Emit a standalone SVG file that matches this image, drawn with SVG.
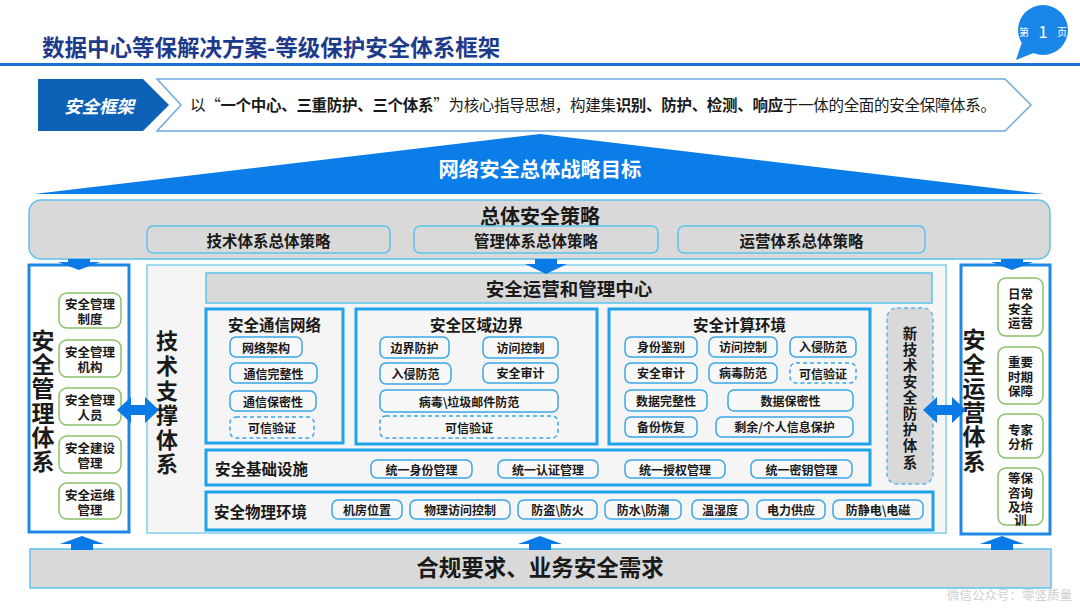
<svg xmlns="http://www.w3.org/2000/svg" width="1080" height="608" viewBox="0 0 1080 608">
<style>
text{font-family:"Noto Sans CJK SC","Noto Sans",sans-serif;fill:#1a1a1a}
.b{font-weight:700}
.c{text-anchor:middle;dominant-baseline:central}
.item rect{fill:#f8f8f8;stroke:#3aa6e6;stroke-width:1.5}
.item text{font-size:12px;font-weight:700;text-anchor:middle;dominant-baseline:central}
.dash rect{stroke-dasharray:4 3}
.sec{fill:#f5f5f5;stroke:#1fa3ea;stroke-width:3}
.gray{fill:#d9d9d9;stroke:#5cc4ec;stroke-width:1.5}
.green rect{fill:#fff;stroke:#8cc06a;stroke-width:1.5}
.green text{font-size:12.5px;font-weight:700;text-anchor:middle;dominant-baseline:central}
.arrow{fill:#0a7ae6}
</style>

<g id="header">
<text x="42" y="56" class="b" font-size="22.5" fill="#1e3a8a" style="fill:#1e3a8a">数据中心等保解决方案-等级保护安全体系框架</text>
<rect x="0" y="63" width="1080" height="3" fill="#1a6fd0"/>
</g>

<g id="page-badge">
<polygon points="1022,42 1016,60 1036,52" fill="#1a86e8"/>
<circle cx="1043" cy="30" r="25" fill="#1a86e8"/>
<text x="1024" y="31" class="c" font-size="10" style="fill:#fff">第</text>
<text x="1043" y="30" class="c" font-size="17" style="fill:#fff">1</text>
<text x="1062" y="31" class="c" font-size="10" style="fill:#fff">页</text>
</g>

<g id="banner">
<polygon points="157,79 1005,79 1031,105 1005,131 157,131 181,105" fill="#fff" stroke="#6fa8dc" stroke-width="1.5"/>
<polygon points="38,79 143,79 169,105 143,131 38,131" fill="#0d62b8"/>
<text x="99" y="105" class="b c" font-size="17.5" font-style="italic" style="fill:#fff">安全框架</text>
<text x="190" y="111" font-size="15.5" textLength="806" lengthAdjust="spacing">以“<tspan class="b">一个中心、三重防护、三个体系</tspan>”为核心指导思想，构建集<tspan class="b">识别、防护、检测、响应</tspan>于一体的全面的安全保障体系。</text>
</g>

<g id="goal">
<polygon points="34,194 540,134 1044,194" fill="#0a7de8"/>
<text x="540" y="168" class="b c" font-size="20.3" style="fill:#fff">网络安全总体战略目标</text>
</g>

<g id="strategy">
<rect x="29" y="200" width="1021" height="59" rx="12" class="gray"/>
<text x="540" y="215" class="b c" font-size="20">总体安全策略</text>
<rect x="147" y="226" width="243" height="27" rx="6" class="gray"/>
<text x="268.5" y="240" class="b c" font-size="15.5">技术体系总体策略</text>
<rect x="414" y="226" width="244" height="27" rx="6" class="gray"/>
<text x="536" y="240" class="b c" font-size="15.5">管理体系总体策略</text>
<rect x="678" y="226" width="247" height="27" rx="6" class="gray"/>
<text x="801.5" y="240" class="b c" font-size="15.5">运营体系总体策略</text>
</g>

<g id="mgmt-system">
<rect x="29" y="265" width="100" height="267" fill="#fff" stroke="#1e88e5" stroke-width="3"/>
<text class="b c" font-size="23"><tspan x="43" y="339">安</tspan><tspan x="43" y="363">全</tspan><tspan x="43" y="387">管</tspan><tspan x="43" y="412">理</tspan><tspan x="43" y="436">体</tspan><tspan x="43" y="460">系</tspan></text>
<g class="green">
<rect x="59" y="293" width="62" height="35" rx="8"/>
<text x="90" y="303">安全管理</text><text x="90" y="318">制度</text>
<rect x="59" y="340" width="62" height="37" rx="8"/>
<text x="90" y="351">安全管理</text><text x="90" y="366">机构</text>
<rect x="59" y="388" width="62" height="37" rx="8"/>
<text x="90" y="399">安全管理</text><text x="90" y="414">人员</text>
<rect x="59" y="436" width="62" height="37" rx="8"/>
<text x="90" y="447">安全建设</text><text x="90" y="462">管理</text>
<rect x="59" y="483" width="62" height="36" rx="8"/>
<text x="90" y="494">安全运维</text><text x="90" y="509">管理</text>
</g>
</g>

<g id="ops-system">
<rect x="961" y="265" width="89" height="269" fill="#fff" stroke="#1e88e5" stroke-width="3"/>
<text class="b c" font-size="23"><tspan x="974" y="338">安</tspan><tspan x="974" y="363">全</tspan><tspan x="974" y="387">运</tspan><tspan x="974" y="411">营</tspan><tspan x="974" y="435">体</tspan><tspan x="974" y="460">系</tspan></text>
<g class="green">
<rect x="998" y="278" width="45" height="58" rx="8"/>
<text x="1020.5" y="293">日常</text><text x="1020.5" y="308">安全</text><text x="1020.5" y="322">运营</text>
<rect x="998" y="347" width="45" height="57" rx="8"/>
<text x="1020.5" y="361">重要</text><text x="1020.5" y="376">时期</text><text x="1020.5" y="390">保障</text>
<rect x="998" y="414" width="45" height="44" rx="8"/>
<text x="1020.5" y="429">专家</text><text x="1020.5" y="443">分析</text>
<rect x="998" y="468" width="45" height="57" rx="8"/>
<text x="1020.5" y="477">等保</text><text x="1020.5" y="492">咨询</text><text x="1020.5" y="506">及培</text><text x="1020.5" y="519">训</text>
</g>
</g>

<g id="tech-system">
<rect x="147" y="265" width="799" height="268" fill="#f5f5f5" stroke="#7fd0f0" stroke-width="1.5"/>
<text class="b c" font-size="22"><tspan x="167" y="339">技</tspan><tspan x="167" y="364">术</tspan><tspan x="167" y="389">支</tspan><tspan x="167" y="413">撑</tspan><tspan x="167" y="438">体</tspan><tspan x="167" y="462">系</tspan></text>
</g>

<g id="soc">
<rect x="206" y="273" width="726" height="30" class="gray"/>
<text x="569" y="288" class="b c" font-size="18.5">安全运营和管理中心</text>
</g>

<g id="comm-network">
<rect x="206" y="309" width="137" height="134" class="sec"/>
<text x="274.5" y="324" class="b c" font-size="15.5">安全通信网络</text>
<g class="item">
<rect x="230" y="337" width="72" height="20" rx="6"/><text x="266" y="347">网络架构</text>
<rect x="230" y="363" width="87" height="20" rx="6"/><text x="273.5" y="373">通信完整性</text>
<rect x="230" y="391" width="86" height="20" rx="6"/><text x="273" y="401">通信保密性</text>
</g>
<g class="item dash">
<rect x="230" y="417" width="84" height="21" rx="6"/><text x="272" y="427.5">可信验证</text>
</g>
</g>

<g id="area-boundary">
<rect x="356" y="309" width="241" height="135" class="sec"/>
<text x="476.5" y="324" class="b c" font-size="15.5">安全区域边界</text>
<g class="item">
<rect x="380" y="337" width="69" height="21" rx="6"/><text x="414.5" y="347.5">边界防护</text>
<rect x="483" y="337" width="75" height="21" rx="6"/><text x="520.5" y="347.5">访问控制</text>
<rect x="380" y="363" width="71" height="21" rx="6"/><text x="415.5" y="373.5">入侵防范</text>
<rect x="483" y="363" width="75" height="20" rx="6"/><text x="520.5" y="372">安全审计</text>
<rect x="380" y="390" width="178" height="22" rx="6"/><text x="469" y="401">病毒\垃圾邮件防范</text>
</g>
<g class="item dash">
<rect x="380" y="416" width="178" height="22" rx="6"/><text x="469" y="427">可信验证</text>
</g>
</g>

<g id="compute-env">
<rect x="609" y="309" width="261" height="135" class="sec"/>
<text x="739.5" y="324" class="b c" font-size="15.5">安全计算环境</text>
<g class="item">
<rect x="625" y="337" width="72" height="20" rx="6"/><text x="661" y="346">身份鉴别</text>
<rect x="709" y="337" width="68" height="20" rx="6"/><text x="743" y="346">访问控制</text>
<rect x="790" y="337" width="66" height="20" rx="6"/><text x="823" y="346">入侵防范</text>
<rect x="625" y="363" width="72" height="20" rx="6"/><text x="661" y="372">安全审计</text>
<rect x="709" y="363" width="68" height="20" rx="6"/><text x="743" y="372">病毒防范</text>
<rect x="625" y="390" width="82" height="21" rx="6"/><text x="666" y="400">数据完整性</text>
<rect x="728" y="390" width="125" height="21" rx="6"/><text x="790.5" y="400">数据保密性</text>
<rect x="625" y="417" width="72" height="20" rx="6"/><text x="661" y="426">备份恢复</text>
<rect x="716" y="417" width="137" height="20" rx="6"/><text x="784.5" y="426">剩余/个人信息保护</text>
</g>
<g class="item dash">
<rect x="790" y="363" width="66" height="20" rx="6"/><text x="823" y="373">可信验证</text>
</g>
</g>

<g id="new-tech">
<rect x="887" y="308" width="46" height="176" rx="10" fill="#d9d9d9" stroke="#5cb8e8" stroke-width="1.5" stroke-dasharray="4 3"/>
<text class="b c" font-size="14.5"><tspan x="910" y="332">新</tspan><tspan x="910" y="348">技</tspan><tspan x="910" y="364">术</tspan><tspan x="910" y="380">安</tspan><tspan x="910" y="396">全</tspan><tspan x="910" y="412">防</tspan><tspan x="910" y="428">护</tspan><tspan x="910" y="444">体</tspan><tspan x="910" y="461">系</tspan></text>
</g>

<g id="infrastructure">
<rect x="206" y="450" width="664" height="35" class="sec"/>
<text x="215" y="468" class="b" font-size="15.5" dominant-baseline="central">安全基础设施</text>
<g class="item">
<rect x="371" y="460" width="101" height="18" rx="6"/><text x="421.5" y="469">统一身份管理</text>
<rect x="498" y="460" width="100" height="18" rx="6"/><text x="548" y="469">统一认证管理</text>
<rect x="625" y="460" width="100" height="18" rx="6"/><text x="675" y="469">统一授权管理</text>
<rect x="751" y="460" width="101" height="18" rx="6"/><text x="801.5" y="469">统一密钥管理</text>
</g>
</g>

<g id="physical-env">
<rect x="206" y="492" width="727" height="38" class="sec"/>
<text x="214" y="511" class="b" font-size="15.5" dominant-baseline="central">安全物理环境</text>
<g class="item">
<rect x="332" y="500" width="70" height="19" rx="6"/><text x="367" y="509.5">机房位置</text>
<rect x="410" y="500" width="100" height="19" rx="6"/><text x="460" y="509.5">物理访问控制</text>
<rect x="518" y="500" width="79" height="19" rx="6"/><text x="557.5" y="509.5">防盗\防火</text>
<rect x="605" y="500" width="76" height="19" rx="6"/><text x="643" y="509.5">防水\防潮</text>
<rect x="692" y="500" width="56" height="19" rx="6"/><text x="720" y="509.5">温湿度</text>
<rect x="757" y="500" width="68" height="19" rx="6"/><text x="791" y="509.5">电力供应</text>
<rect x="833" y="500" width="90" height="19" rx="6"/><text x="878" y="509.5">防静电\电磁</text>
</g>
</g>

<g id="compliance">
<rect x="30" y="549" width="1021" height="39" class="gray" stroke-width="2"/>
<text x="540" y="566" class="b c" font-size="22.5">合规要求、业务安全需求</text>
</g>

<g id="connectors">
<polygon class="arrow" points="68,259 90,259 90,262 100,262 79,270 58,262 68,262"/>
<polygon class="arrow" points="535,259 557,259 557,264 567,264 546,274 525,264 535,264"/>
<polygon class="arrow" points="1001,259 1023,259 1023,262 1033,262 1012,270 991,262 1001,262"/>
<polygon class="arrow" points="82,536 104,544 93,544 93,550 71,550 71,544 60,544"/>
<polygon class="arrow" points="540,536 562,544 551,544 551,550 529,550 529,544 518,544"/>
<polygon class="arrow" points="1002,536 1024,544 1013,544 1013,550 991,550 991,544 980,544"/>
<polygon class="arrow" points="117,410 131,397 131,405 145,405 145,397 159,410 145,423 145,415 131,415 131,423"/>
<polygon class="arrow" points="923,410 937,397 937,405 952,405 952,397 966,410 952,423 952,415 937,415 937,423"/>
</g>

<text x="1072" y="600" font-size="12.5" text-anchor="end" style="fill:#cfcfcf">微信公众号：零竖质量</text>
</svg>
